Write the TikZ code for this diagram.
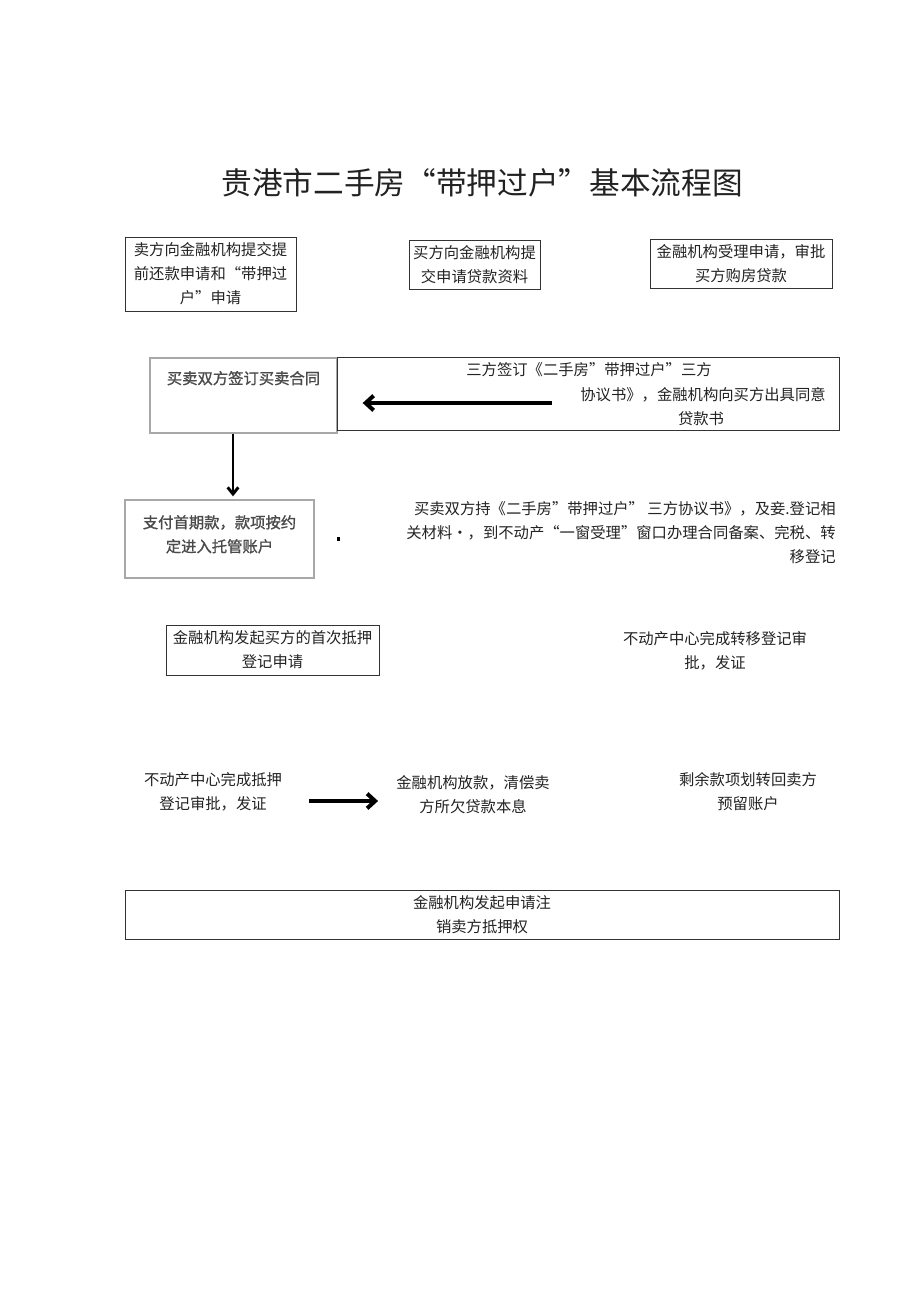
\documentclass[tikz,border=0pt]{standalone}
\usepackage{fontspec}
\setmainfont{Noto Sans CJK SC}
\newfontfamily\heavyfont[FakeBold=1.2]{Noto Sans CJK SC}
\usepackage{tikz}
\usetikzlibrary{arrows.meta,calc}
\definecolor{ink}{HTML}{222222}
\definecolor{frame}{HTML}{333333}
\definecolor{softframe}{HTML}{A8A8A8}
\definecolor{softink}{HTML}{4A4A4A}

\begin{document}
\begin{tikzpicture}[
    x=0.75pt, y=-0.75pt,
    font=\fontsize{11.5}{18}\selectfont, text=ink,
    box/.style={rectangle, draw=frame, line width=0.6pt, align=center,
                inner sep=2pt},
    softbox/.style={rectangle, draw=softframe, line width=1pt, align=center,
                    inner sep=2pt, text=softink,
                    font=\heavyfont\fontsize{11.5}{18}\selectfont},
    txt/.style={inner sep=0pt, align=center},
    fatarrow/.style={line width=#1, draw=black,
                     -{Straight Barb[length=6pt,width=11pt]}},
    fatarrow/.default=3pt
]
\useasboundingbox (0,0) rectangle (920,1301);

% Title
\node[txt, font=\fontsize{23}{28}\selectfont] (title) at (482,183)
    {贵港市二手房“带押过户”基本流程图};

% Row 1: applications
\node[box, minimum width=128.25pt, minimum height=55.5pt] (sellerApp) at (210.5,274)
    {卖方向金融机构提交提\\前还款申请和“带押过\\户”申请};
\node[box, minimum width=98.25pt, minimum height=36.75pt] (buyerApp) at (474.5,264.5)
    {买方向金融机构提\\交申请贷款资料};
\node[box, minimum width=136.5pt, minimum height=36.75pt] (bankOk) at (741,263.5)
    {金融机构受理申请，审批\\买方购房贷款};

% Row 2: contracts
\node[softbox, minimum width=140.25pt, minimum height=56.25pt,
      inner ysep=8pt, text height=11.5pt, text depth=28.75pt] (sign) at (243.5,395.5)
    {买卖双方签订买卖合同};
\node[box, minimum width=376.5pt, minimum height=54.75pt] (triple) at (588,393.5) {};
\node[txt] (triple1) at (589,370) {三方签订《二手房”带押过户”三方};
\node[txt, anchor=east] (triple2) at (826,395) {协议书》，金融机构向买方出具同意};
\node[txt] (triple3) at (701,419) {贷款书};

% Row 3: payment and registration
\node[softbox, minimum width=141.75pt, minimum height=58.5pt, inner ysep=6pt,
      text depth=8pt] (pay) at (219.5,539)
    {支付首期款，款项按约\\定进入托管账户};
\node[txt, align=right, anchor=east] (filing) at (836,533)
    {买卖双方持《二手房"带押过户” 三方协议书》，及妾.登记相\\
     关材料•，到不动产“一窗受理”窗口办理合同备案、完税、转\\
     移登记};
\fill (336.5,537) rectangle (339.5,541);

% Row 4
\node[box, minimum width=159.75pt, minimum height=37.5pt] (firstMort) at (272.5,650)
    {金融机构发起买方的首次抵押\\登记申请};
\node[txt] (transferDone) at (715,651) {不动产中心完成转移登记审\\批，发证};

% Row 5
\node[txt] (mortDone) at (213,792) {不动产中心完成抵押\\登记审批，发证};
\node[txt] (loan) at (473,795) {金融机构放款，清偿卖\\方所欠贷款本息};
\node[txt] (refund) at (748,792) {剩余款项划转回卖方\\预留账户};

% Row 6
\node[box, minimum width=535.5pt, minimum height=36.75pt] (release) at (482,914.5)
    {金融机构发起申请注\\销卖方抵押权};

% Arrows
\coordinate (agreeTail) at (552,403);
\draw[fatarrow] (agreeTail) -- ($(sign.east |- agreeTail)+(25,0)$);
\coordinate (drop) at (233,0);
\draw[fatarrow=2.2pt, -{Straight Barb[length=5pt,width=8pt]}]
    (sign.south -| drop) -- ($(pay.north -| drop)+(0,-3)$);
\draw[fatarrow] ($(mortDone.east)+(27,9)$) -- ($(loan.west)+(-18,6)$);

\end{tikzpicture}
\end{document}
